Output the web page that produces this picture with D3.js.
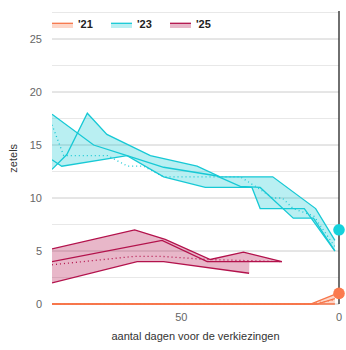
<!DOCTYPE html>
<html><head><meta charset="utf-8">
<script src="https://cdn.jsdelivr.net/npm/d3@7"></script>
<style>body{margin:0;background:#fff}svg{display:block;font-family:"Liberation Sans",Arial,sans-serif}</style>
</head><body><svg id="c" width="346" height="350"></svg>
<script>
// ---- data (days before election, seats) ----
const years = ["'21", "'23", "'25"];
const colors = ["#f7764a", "#17c9d5", "#b3124c"];
const dotColors = ["#fb7a4e", "#14d2dc", "#b3124c"];
const results = [1, 7, null];
const yTicks = [0, 5, 10, 15, 20, 25];
const xTicks = [50, 0];

const polls21 = [
  [[91,0],[9,0],[1.3,0.9]],
  [[91,0],[7,0],[1.3,0.5]],
  [[91,0],[1.3,0]]
];
const avg21 = [[91,0],[9,0],[1.3,0.4]];

const polls23 = [
  [[91,17.9],[77.8,15],[67.2,14],[55.6,12.9],[39,12.1],[31.3,11.1],[25,11],[14.5,8.1],[8.1,8.1],[1.3,5]],
  [[91,12.7],[86.3,14.1],[79.8,18],[73.6,16],[59.8,14],[45,13],[37.7,12],[21,12],[7.4,9],[1.3,6]],
  [[91,13.6],[87.9,13],[67.2,14],[55.6,12],[42.4,11],[27.6,11],[25,9],[11,9],[1.3,5]]
];
const avg23 = [[91,16.9],[87.3,14],[73.4,14],[67,13],[62,13],[55.7,12],[31.3,12],[26,11],[21,10],[18,10],[14.5,9],[8,8.3],[1.3,5.4]];

const polls25 = [
  [[91,5.2],[64.8,7],[55.1,6.1],[40.8,4.2],[30.3,4.9],[18.1,4]],
  [[91,4],[56.1,6],[41.8,4],[18.1,4]],
  [[91,2],[64,4],[55.6,4],[28.5,2.9]]
];
const avg25 = [[91,3.7],[64.7,4.5],[56.5,4.5],[42,4.2],[30,4.1],[18.1,4]];

const pollSets = [polls21, polls23, polls25];
const avgSets = [avg21, avg23, avg25];

// ---- layout ----
const svg = d3.select("#c");
const L = 52, R = 339, T = 12.5, B = 304;
const x = d3.scaleLinear().domain([91, 0]).range([L, R]);
const y = d3.scaleLinear().domain([0, 27.5]).range([B, T]);

// grid
const minor = d3.range(2.5, 28, 5);
svg.append("g").selectAll("line").data(minor).join("line")
  .attr("x1", L).attr("x2", R).attr("y1", d => y(d)).attr("y2", d => y(d))
  .attr("stroke", "#e8e8e8").attr("stroke-width", 1);
svg.append("g").selectAll("line").data(yTicks).join("line")
  .attr("x1", L).attr("x2", R).attr("y1", d => y(d)).attr("y2", d => y(d))
  .attr("stroke", "#cccccc").attr("stroke-width", 1);

// y tick labels
svg.append("g").selectAll("text").data(yTicks).join("text")
  .attr("x", 42).attr("y", d => y(d) + 4).attr("text-anchor", "end")
  .attr("font-size", 11).attr("fill", "#666").text(d => d);
// x tick labels
svg.append("g").selectAll("text").data(xTicks).join("text")
  .attr("x", d => x(d)).attr("y", 321).attr("text-anchor", "middle")
  .attr("font-size", 11).attr("fill", "#666").text(d => d);

svg.append("text").attr("x", (L + R) / 2).attr("y", 340).attr("text-anchor", "middle")
  .attr("font-size", 11).attr("fill", "#333").text("aantal dagen voor de verkiezingen");
svg.append("text").attr("transform", `translate(17,${(T + B) / 2}) rotate(-90)`)
  .attr("text-anchor", "middle").attr("font-size", 11).attr("fill", "#333").text("zetels");

svg.append("defs").append("clipPath").attr("id", "pc")
  .append("rect").attr("x", L).attr("y", 0).attr("width", R - L + 1).attr("height", B + 2);

// envelope of polls (min..max of available lines)
function valAt(line, d) {
  for (let i = 0; i < line.length - 1; i++) {
    const a = line[i], b = line[i + 1];
    if (d <= a[0] && d >= b[0]) {
      if (a[0] === b[0]) return a[1];
      return a[1] + (b[1] - a[1]) * (a[0] - d) / (a[0] - b[0]);
    }
  }
  return null;
}
function envelope(lines) {
  const start = d3.max(lines, l => l[0][0]);
  const end = d3.min(lines, l => l[l.length - 1][0]);
  let days = d3.range(start, end, -0.1).concat([end]);
  lines.forEach(l => l.forEach(p => days.push(p[0])));
  days = Array.from(new Set(days.map(d => +d.toFixed(3)))).sort((a, b) => b - a);
  const hi = [], lo = [];
  days.forEach(d => {
    const vs = lines.map(l => valAt(l, d)).filter(v => v !== null);
    if (vs.length) { hi.push([d, d3.max(vs)]); lo.push([d, d3.min(vs)]); }
  });
  return hi.concat(lo.reverse());
}

const plot = svg.append("g").attr("clip-path", "url(#pc)");
const line = d3.line().x(d => x(d[0])).y(d => y(d[1]));
const poly = d3.line().x(d => x(d[0])).y(d => y(d[1])).curve(d3.curveLinearClosed);

pollSets.forEach((ps, i) => {
  plot.append("path").attr("d", poly(envelope(ps)))
    .attr("fill", colors[i]).attr("fill-opacity", 0.3).attr("stroke", "none");
});
pollSets.forEach((ps, i) => {
  ps.forEach(l => plot.append("path").attr("d", line(l))
    .attr("fill", "none").attr("stroke", colors[i]).attr("stroke-width", 1.3));
  plot.append("path").attr("d", line(avgSets[i]))
    .attr("fill", "none").attr("stroke", colors[i]).attr("stroke-width", 1.3)
    .attr("stroke-dasharray", "1,3");
});

// vertical election-day line
svg.append("line").attr("x1", x(0)).attr("x2", x(0)).attr("y1", 11).attr("y2", B)
  .attr("stroke", "#222").attr("stroke-width", 1.3);

// results
results.forEach((r, i) => {
  if (r === null) return;
  svg.append("circle").attr("cx", x(0)).attr("cy", y(r)).attr("r", 5.8).attr("fill", dotColors[i]);
});

// legend
const lg = svg.append("g");
const lx = [52, 111, 170];
years.forEach((t, i) => {
  lg.append("rect").attr("x", lx[i]).attr("y", 23).attr("width", 21).attr("height", 5)
    .attr("fill", colors[i]).attr("fill-opacity", 0.3);
  lg.append("line").attr("x1", lx[i]).attr("x2", lx[i] + 21).attr("y1", 23.3).attr("y2", 23.3)
    .attr("stroke", colors[i]).attr("stroke-width", 1.3);
  lg.append("text").attr("x", lx[i] + 26).attr("y", 27.5).attr("font-size", 11)
    .attr("font-weight", "bold").attr("fill", "#222").text(t);
});
</script></body></html>
